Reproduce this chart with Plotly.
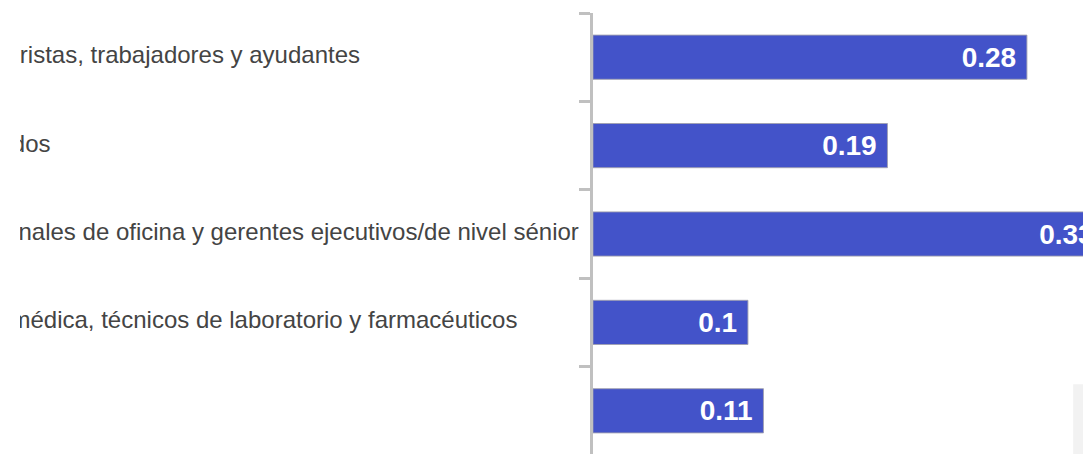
"""Gráfico de barras horizontales - recorte"""

import plotly.graph_objects as go

# Datos
categorias = [
    "Jefes floristas, trabajadores y ayudantes",
    "Empleados",
    "Profesionales de oficina y gerentes ejecutivos/de nivel sénior",
    "Clínica médica, técnicos de laboratorio y farmacéuticos",
    " ",
]
valores = [0.28, 0.19, 0.33, 0.1, 0.11]

COLOR_BARRA = "#4353C9"
COLOR_EJE = "#c0c0c0"
FUENTE = "Arial, Liberation Sans"

# posición de las etiquetas (alineadas a la izquierda, recortadas por el borde)
X_ETIQUETA = -0.1566

fig = go.Figure()

fig.add_trace(
    go.Bar(
        x=valores,
        y=categorias,
        orientation="h",
        marker=dict(color=COLOR_BARRA, line=dict(color="rgba(160,160,175,0.9)", width=1)),
        texttemplate="%{x} ",
        textposition="inside",
        insidetextanchor="end",
        textangle=0,
        insidetextfont=dict(family=FUENTE, size=28, color="white", weight="bold"),
        showlegend=False,
        hoverinfo="skip",
    )
)

# etiquetas de categoría como texto en un eje auxiliar (se recortan a la izquierda)
fig.add_trace(
    go.Scatter(
        x=[X_ETIQUETA] * len(categorias),
        y=categorias,
        xaxis="x2",
        mode="text",
        text=categorias,
        textposition="middle right",
        textfont=dict(family=FUENTE, size=24, color="#444"),
        cliponaxis=True,
        showlegend=False,
        hoverinfo="skip",
    )
)

# recuadro gris claro en la esquina inferior derecha
fig.add_shape(
    type="rect",
    xref="x domain",
    yref="y domain",
    x0=0.949,
    x1=1.0,
    y0=0,
    y1=0.16,
    fillcolor="#f2f2f2",
    line=dict(width=0),
    layer="below",
)

fig.update_layout(
    width=1091,
    height=454,
    margin=dict(l=12, r=0, t=5, b=7),
    paper_bgcolor="white",
    plot_bgcolor="white",
    bargap=0.5,
    font=dict(family=FUENTE, size=24, color="#444"),
    xaxis=dict(
        domain=[0.531, 1.0],
        range=[0, 0.3265],
        visible=False,
        showgrid=False,
        zeroline=False,
    ),
    xaxis2=dict(
        domain=[0, 0.53],
        range=[0, 1],
        anchor="y",
        visible=False,
        showgrid=False,
        zeroline=False,
    ),
    yaxis=dict(
        anchor="x",
        autorange="reversed",
        showline=True,
        linecolor=COLOR_EJE,
        linewidth=3,
        ticks="outside",
        tickson="boundaries",
        ticklen=11,
        tickwidth=3,
        tickcolor=COLOR_EJE,
        showgrid=False,
        showticklabels=False,
        automargin=False,
    ),
)

fig.write_html("out.html")
